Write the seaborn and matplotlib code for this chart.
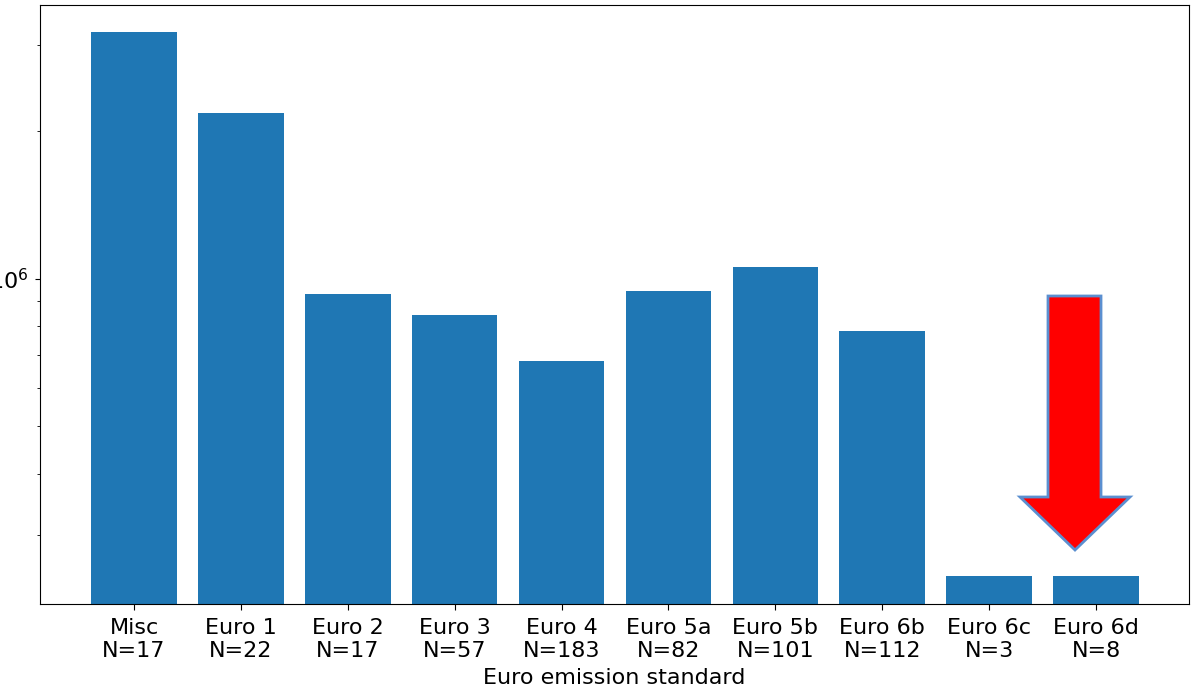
import numpy as np
import pandas as pd
import matplotlib
matplotlib.use("Agg")
import matplotlib.pyplot as plt
import seaborn as sns
from matplotlib.patches import Polygon

# Values (log scale y)
standards = ["Misc", "Euro 1", "Euro 2", "Euro 3", "Euro 4", "Euro 5a",
             "Euro 5b", "Euro 6b", "Euro 6c", "Euro 6d"]
counts = [17, 22, 17, 57, 183, 82, 101, 112, 3, 8]
values = [3.19e6, 2.18e6, 9.3e5, 8.45e5, 6.8e5, 9.45e5, 1.058e6, 7.83e5, 2.47e5, 2.47e5]

labels = [f"{s}\nN={n}" for s, n in zip(standards, counts)]
df = pd.DataFrame({"standard": labels, "value": values})

fig = plt.figure(figsize=(11.91, 6.86), dpi=100)
ax = fig.add_axes([40 / 1191, 82 / 686, 1149 / 1191, 599 / 686])

sns.barplot(data=df, x="standard", y="value", color="#1f77b4", saturation=1,
            width=0.8, ax=ax)
ax.set_yscale("log")
ax.set_ylim(2.17e5, 3.62e6)
ax.set_xlim(-0.88, 9.87)

ax.tick_params(axis="both", labelsize=16)
ax.tick_params(axis="x", pad=6, length=4)
ax.tick_params(axis="y", pad=4.5)
ax.set_xlabel("Euro emission standard", fontsize=16, labelpad=5)
ax.set_ylabel("")

# red arrow overlay pointing at Euro 6d (drawn in figure pixels)
pts = [(1048, 296), (1101, 296), (1101, 497), (1130, 497), (1075, 550),
       (1020, 497), (1048, 497)]
pts = [(x / 1191, 1 - y / 686) for x, y in pts]
arrow = Polygon(pts, closed=True, facecolor="#ff0000", edgecolor="#5b8fd0",
                linewidth=2, transform=fig.transFigure, zorder=5)
fig.patches.append(arrow)

fig.savefig("out.png", dpi=100)
